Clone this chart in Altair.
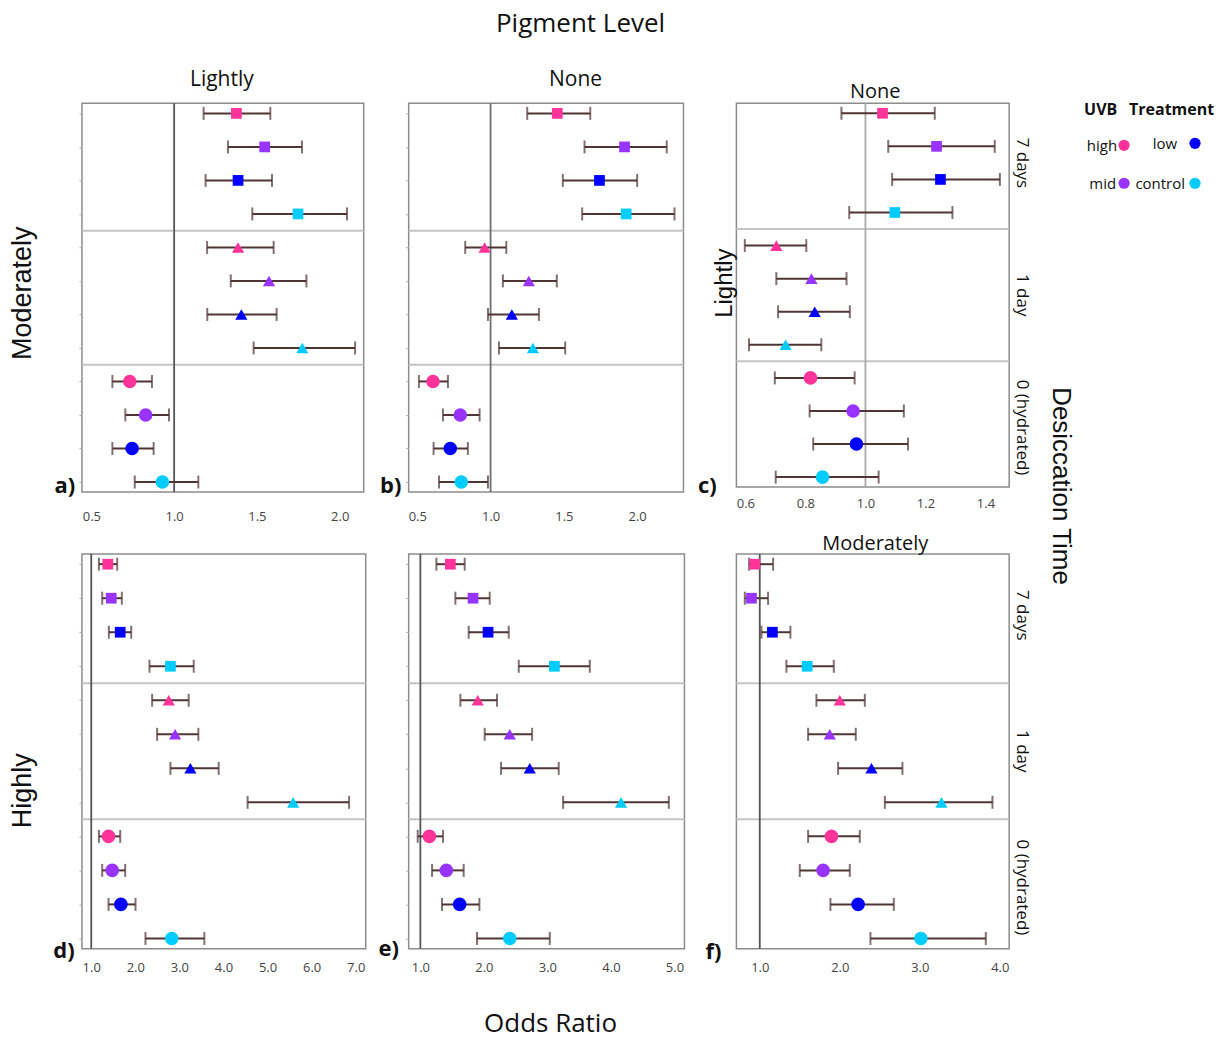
import altair as alt
import pandas as pd

TREATMENTS = ["high", "mid", "low", "control"]
TIMES = ["7 days", "1 day", "0 (hydrated)"]
COLORS = ["#ff3399", "#9933ff", "#0000ff", "#00ccff"]
SHAPES = ["square", "triangle-up", "circle"]

# rows: 7 days (high, mid, low, control), 1 day (...), 0 (hydrated) (...)
a_or = [1.376, 1.547, 1.386, 1.748, 1.386, 1.573, 1.406, 1.774, 0.732, 0.828, 0.746, 0.929]
a_lo = [1.178, 1.325, 1.190, 1.472, 1.199, 1.342, 1.200, 1.480, 0.627, 0.705, 0.627, 0.762]
a_hi = [1.581, 1.772, 1.591, 2.044, 1.601, 1.799, 1.619, 2.093, 0.866, 0.969, 0.876, 1.146]

b_or = [1.455, 1.914, 1.743, 1.925, 0.959, 1.261, 1.145, 1.289, 0.607, 0.793, 0.725, 0.800]
b_lo = [1.250, 1.641, 1.493, 1.625, 0.827, 1.084, 0.982, 1.057, 0.511, 0.675, 0.611, 0.648]
b_hi = [1.680, 2.202, 2.000, 2.255, 1.107, 1.452, 1.330, 1.509, 0.709, 0.925, 0.845, 0.982]

c_or = [1.057, 1.237, 1.250, 1.098, 0.703, 0.820, 0.831, 0.734, 0.817, 0.959, 0.970, 0.857]
c_lo = [0.920, 1.076, 1.089, 0.946, 0.598, 0.703, 0.709, 0.612, 0.698, 0.814, 0.826, 0.701]
c_hi = [1.231, 1.431, 1.448, 1.290, 0.803, 0.937, 0.948, 0.853, 0.964, 1.128, 1.142, 1.044]

d_or = [1.377, 1.453, 1.657, 2.796, 2.758, 2.902, 3.249, 5.581, 1.392, 1.475, 1.672, 2.826]
d_lo = [1.174, 1.249, 1.400, 2.321, 2.381, 2.494, 2.796, 4.547, 1.174, 1.249, 1.392, 2.230]
d_hi = [1.589, 1.694, 1.906, 3.325, 3.211, 3.430, 3.891, 6.849, 1.657, 1.770, 2.004, 3.566]

e_or = [1.472, 1.829, 2.066, 3.110, 1.903, 2.407, 2.722, 4.160, 1.142, 1.409, 1.619, 2.407]
e_lo = [1.252, 1.551, 1.761, 2.549, 1.630, 2.013, 2.270, 3.247, 0.958, 1.184, 1.341, 1.892]
e_hi = [1.698, 2.092, 2.391, 3.667, 2.207, 2.759, 3.178, 4.911, 1.357, 1.682, 1.929, 3.037]

f_or = [0.938, 0.896, 1.158, 1.592, 2.000, 1.875, 2.396, 3.271, 1.896, 1.792, 2.229, 3.013]
f_lo = [0.867, 0.813, 1.021, 1.333, 1.708, 1.604, 1.979, 2.563, 1.604, 1.500, 1.883, 2.383]
f_hi = [1.167, 1.104, 1.383, 1.925, 2.313, 2.200, 2.783, 3.908, 2.250, 2.125, 2.675, 3.825]

a_ticks = [0.5, 1.0, 1.5, 2.0]
b_ticks = [0.5, 1.0, 1.5, 2.0]
c_ticks = [0.6, 0.8, 1.0, 1.2, 1.4]
d_ticks = [1.0, 2.0, 3.0, 4.0, 5.0, 6.0, 7.0]
e_ticks = [1.0, 2.0, 3.0, 4.0, 5.0]
f_ticks = [1.0, 2.0, 3.0, 4.0]

EB = "#4f3535"
FONT = "Open Sans"
ARIAL = "Liberation Sans"

Y_SCALE = alt.Scale(domain=[-0.3, 11.3], reverse=True, nice=False, zero=False)
Y_AXIS = alt.Axis(values=list(range(12)), labels=False, domain=False, ticks=True,
                  tickSize=3, tickColor="#b0b0b0", title=None, grid=False)


def make_df(or_, lo, hi):
    return pd.DataFrame({
        "row": list(range(12)),
        "treatment": TREATMENTS * 3,
        "time": [t for t in TIMES for _ in TREATMENTS],
        "or": or_, "lo": lo, "hi": hi,
    })


def label(text, x, y, size, angle=0, font=FONT, weight="normal", align="center",
          baseline="middle", color="#111"):
    return alt.Chart(pd.DataFrame({"t": [text]})).mark_text(
        fontSize=size, angle=angle, font=font, fontWeight=weight, align=align,
        baseline=baseline, color=color
    ).encode(text="t:N", x=alt.value(x), y=alt.value(y))


def dot(color, x, y):
    return alt.Chart(pd.DataFrame({"t": [color]})).mark_point(
        filled=True, opacity=1, size=125, shape="circle", color=color
    ).encode(x=alt.value(x), y=alt.value(y))


def time_labels(x):
    Y = alt.Y("row:Q", scale=Y_SCALE, axis=None)
    return alt.Chart(pd.DataFrame({"t": TIMES, "row": [1.5, 5.5, 9.5]})).mark_text(
        angle=90, fontSize=17, font=FONT, color="#111", baseline="middle"
    ).encode(text="t:N", y=Y, x=alt.value(x))


def spacer(width, height):
    return alt.Chart(pd.DataFrame({"s": [0]})).mark_point(opacity=0).encode(
        x=alt.value(0), y=alt.value(0)
    ).properties(width=width, height=height, view=alt.ViewBackground(strokeOpacity=0))


def panel(or_, lo, hi, domain, ticks, width, height, ref_color, label_pad, extras):
    df = make_df(or_, lo, hi)
    xs = alt.Scale(domain=domain, nice=False, zero=False)
    xa = alt.Axis(values=ticks, format=".1f", title=None, grid=False, ticks=False,
                  tickSize=0, domain=False, labelPadding=label_pad, labelFontSize=13,
                  labelColor="#444", labelFont=FONT)

    def X(f):
        return alt.X(f, scale=xs, axis=xa)

    Y = alt.Y("row:Q", scale=Y_SCALE, axis=Y_AXIS)
    sep = alt.Chart(pd.DataFrame({"row": [3.5, 7.5]})).mark_rule(
        color="#c4c4c4", strokeWidth=2).encode(y=Y)
    ref = alt.Chart(pd.DataFrame({"v": [1.0]})).mark_rule(
        color=ref_color, strokeWidth=1.8).encode(x=X("v:Q"))
    bars = alt.Chart(df).mark_rule(color=EB, strokeWidth=2).encode(
        x=X("lo:Q"), x2="hi:Q", y=Y)
    caps = alt.Chart(df).transform_fold(["lo", "hi"], as_=["end", "val"]).mark_tick(
        orient="vertical", size=13, thickness=2, color=EB).encode(x=X("val:Q"), y=Y)
    pts = alt.Chart(df).mark_point(filled=True, opacity=1).encode(
        x=X("or:Q"), y=Y,
        color=alt.Color("treatment:N", scale=alt.Scale(domain=TREATMENTS, range=COLORS), legend=None),
        shape=alt.Shape("time:N", scale=alt.Scale(domain=TIMES, range=SHAPES), legend=None),
        size=alt.Size("time:O", scale=alt.Scale(domain=TIMES, range=[115, 185, 100]), legend=None),
    )
    return alt.layer(sep, ref, bars, caps, pts, *extras).properties(width=width, height=height)


pa = panel(a_or, a_lo, a_hi, [0.443, 2.145], a_ticks, 282, 389, "#555555", 18, [
    label("Pigment Level", 499, -79, 26),
    label("Lightly", 140, -23, 21),
    label("Moderately", -59, 190, 27, angle=270, font=ARIAL),
    label("a)", -17, 383, 22, weight="bold"),
])
pb = panel(b_or, b_lo, b_hi, [0.441, 2.316], b_ticks, 275, 389, "#707070", 18, [
    label("None", 167, -23, 21),
    label("b)", -18, 383, 22, weight="bold"),
])
pc = panel(c_or, c_lo, c_hi, [0.570, 1.479], c_ticks, 273, 384, "#aaaaaa", 10, [
    label("None", 139, -11, 20),
    label("Lightly", -11, 180, 24, angle=270, font=ARIAL),
    label("c)", -29, 383, 22, weight="bold"),
    time_labels(286),
    label("Desiccation Time", 325, 383, 26, angle=90, font=ARIAL),
    label("UVB", 348, 7, 16, weight="bold", align="left"),
    label("Treatment", 393, 7, 16, weight="bold", align="left"),
    label("high", 381, 43, 15, align="right"),
    dot(COLORS[0], 388, 42),
    label("low", 441, 41, 15, align="right"),
    dot(COLORS[2], 459, 40),
    label("mid", 380, 81, 15, align="right"),
    dot(COLORS[1], 388, 80),
    label("control", 449, 81, 15, align="right"),
    dot(COLORS[3], 459, 80),
])
pd_ = panel(d_or, d_lo, d_hi, [0.789, 7.226], d_ticks, 284, 395, "#555555", 13, [
    label("Highly", -59, 237, 27, angle=270, font=ARIAL),
    label("d)", -18, 397, 22, weight="bold"),
])
pe = panel(e_or, e_lo, e_hi, [0.816, 5.157], e_ticks, 276, 395, "#555555", 13, [
    label("e)", -20, 395, 22, weight="bold"),
    label("Odds Ratio", 142, 470, 26),
])
pf = panel(f_or, f_lo, f_hi, [0.708, 4.117], f_ticks, 273, 395, "#555555", 13, [
    label("Moderately", 139, -10, 20),
    label("f)", -23, 398, 22, weight="bold"),
    time_labels(286),
])

chart = alt.concat(
    pa, spacer(43, 10), pb, spacer(52, 10), pc,
    pd_, spacer(43, 10), pe, spacer(52, 10), pf,
    columns=5, spacing={"row": 62, "column": 0}, bounds="flush",
).properties(
    padding={"left": 0, "top": 2, "right": 2, "bottom": 6}
).configure_view(stroke="#8c8c8c", strokeWidth=1.5)

chart.save("out.html", embed_options={"renderer": "svg", "actions": False})
